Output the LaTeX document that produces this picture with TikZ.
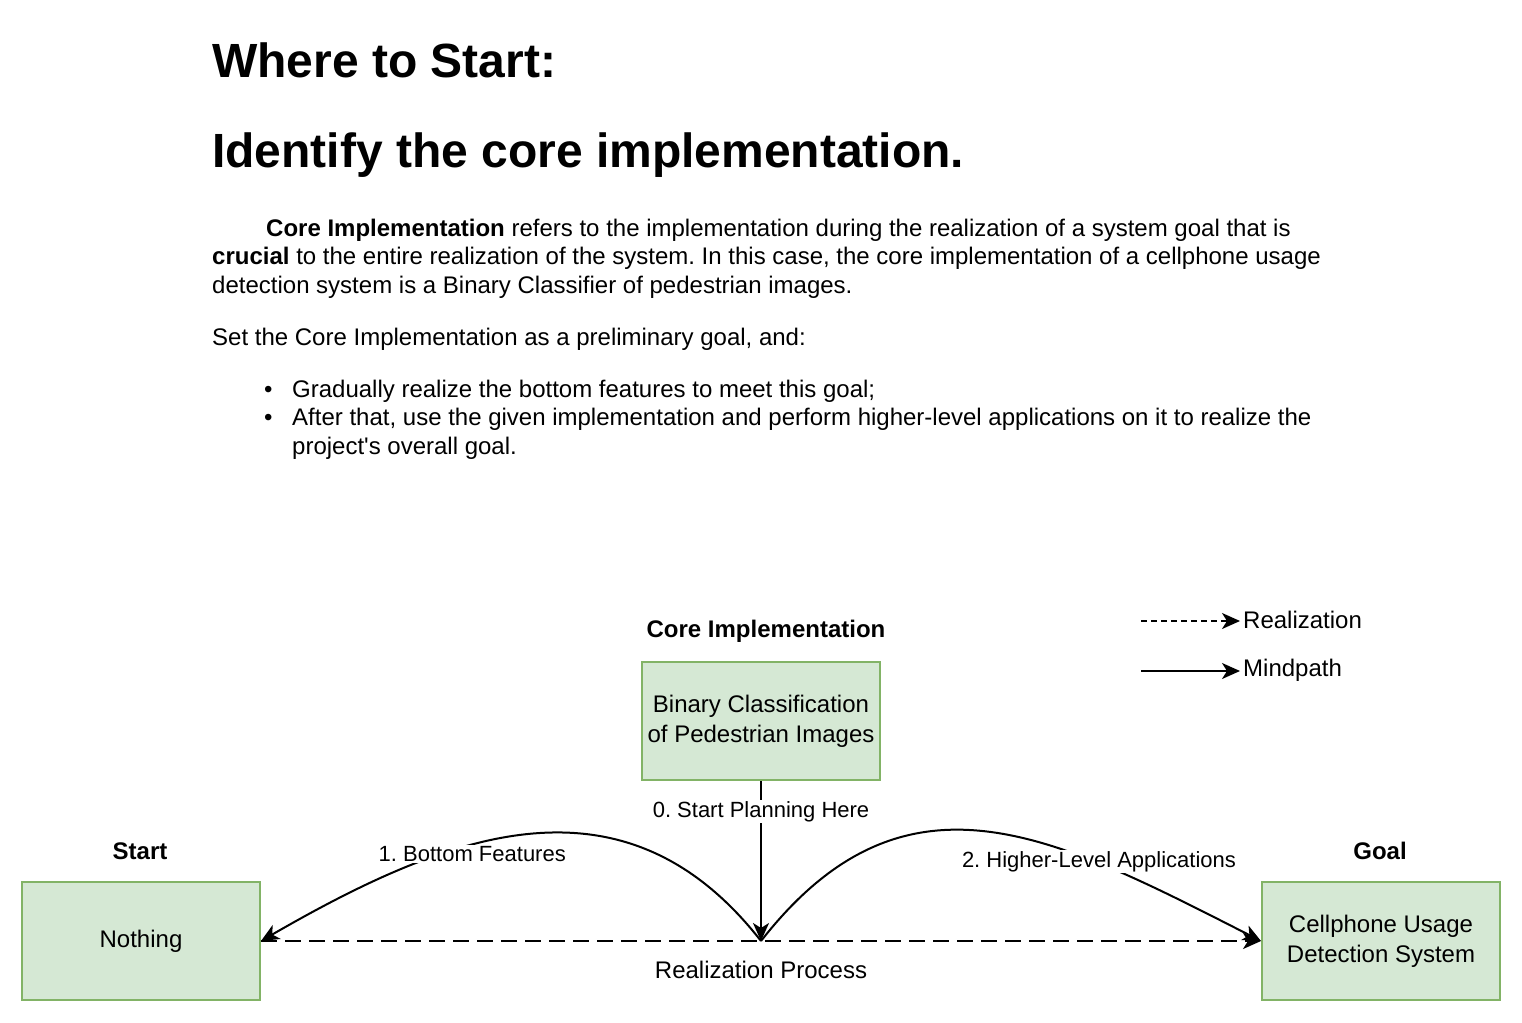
\documentclass[tikz,border=0pt]{standalone}
\usepackage{fontspec}
\setmainfont{Liberation Sans}[Ligatures=TeXOff]
\usetikzlibrary{arrows.meta,positioning}
\definecolor{boxfill}{HTML}{D5E8D4}
\definecolor{boxline}{HTML}{82B366}
\frenchspacing
\tikzset{stage/.style={rectangle,draw=boxline,fill=boxfill,line width=2pt,minimum width=238pt,minimum height=118pt,align=center,font=\fontsize{24}{30}\selectfont}}
\tikzset{caption/.style={inner sep=2pt,font=\bfseries\fontsize{24}{29}\selectfont}}
\tikzset{heading/.style={inner sep=0pt,font=\bfseries\fontsize{48}{58}\selectfont}}
\tikzset{bodytext/.style={inner sep=0pt,align=left,font=\fontsize{24}{28.8}\selectfont}}
\tikzset{edgelabel/.style={fill=white,inner sep=1pt,font=\fontsize{22}{26}\selectfont}}
\tikzset{mindpath/.style={-{Stealth[length=18pt,width=16pt,inset=5pt]},line width=2pt}}
\tikzset{realization/.style={mindpath,dash pattern=on 16pt off 8pt}}

\begin{document}
\begin{tikzpicture}[x=1pt,y=1pt]
\useasboundingbox (0,0) rectangle (1522,-1022);
% heading and text
\node (where) [heading, anchor=base west] at (212,-78) {Where to Start:};
\node (identify) [heading, anchor=base west] at (212,-167) {Identify the core implementation.};
\node (intro) [bodytext, anchor=base west] at (212,-293.6) {\hspace*{54pt}\textbf{Core Implementation} refers to the implementation during the realization of a system goal that is\\\textbf{crucial} to the entire realization of the system. In this case, the core implementation of a cellphone usage\\detection system is a Binary Classifier of pedestrian images.};
\node (setgoal) [bodytext, anchor=base west] at (212,-345) {Set the Core Implementation as a preliminary goal, and:};
\node (steps) [bodytext, anchor=base west] at (264,-454.6) {\makebox[28pt][l]{\textbullet}Gradually realize the bottom features to meet this goal;\\\makebox[28pt][l]{\textbullet}After that, use the given implementation and perform higher-level applications on it to realize the\\\hspace*{28pt}project's overall goal.};

% diagram
\node (core) [stage] at (761,-721) {Binary Classification\\of Pedestrian Images};
\node (nothing) [stage] at (141,-941) {Nothing};
\node (goal) [stage] at (1381,-941) {Cellphone Usage\\Detection System};
\node (corelbl) [caption] at (766,-631) {Core Implementation};
\node (startlbl) [caption] at (140,-851) {Start};
\node (goallbl) [caption] at (1380,-851) {Goal};
\coordinate (meet) at (761,-941);

\draw [realization] (nothing.east) -- (goal.west) node (process) [midway, yshift=-29pt, font=\fontsize{24}{29}\selectfont] {Realization Process};
\draw [mindpath] (core) -- (meet) node (plan) [edgelabel, pos=0.19] {0. Start Planning Here};
\draw [mindpath] (meet) to[out=128,in=30,out looseness=1.15,in looseness=1.1] node (bottom) [edgelabel, pos=0.61, yshift=-9pt] {1. Bottom Features} (nothing.east);
\draw [mindpath] (meet) to[out=52,in=153,looseness=1.2] node (higher) [edgelabel, pos=0.72, yshift=2pt] {2. Higher-Level Applications} (goal.west);

% legend
\node (reallbl) [anchor=west, inner sep=3pt, font=\fontsize{24}{29}\selectfont] at (1240,-620) {Realization};
\node (mindlbl) [anchor=west, inner sep=3pt, font=\fontsize{24}{29}\selectfont] at (1240,-670) {Mindpath};
\coordinate (realfrom) at (1141,-621);
\coordinate (mindfrom) at (1141,-671);
\draw [mindpath, dash pattern=on 6pt off 4pt] (realfrom) -- (reallbl.west |- realfrom);
\draw [mindpath] (mindfrom) -- (mindlbl.west |- mindfrom);
\end{tikzpicture}
\end{document}
